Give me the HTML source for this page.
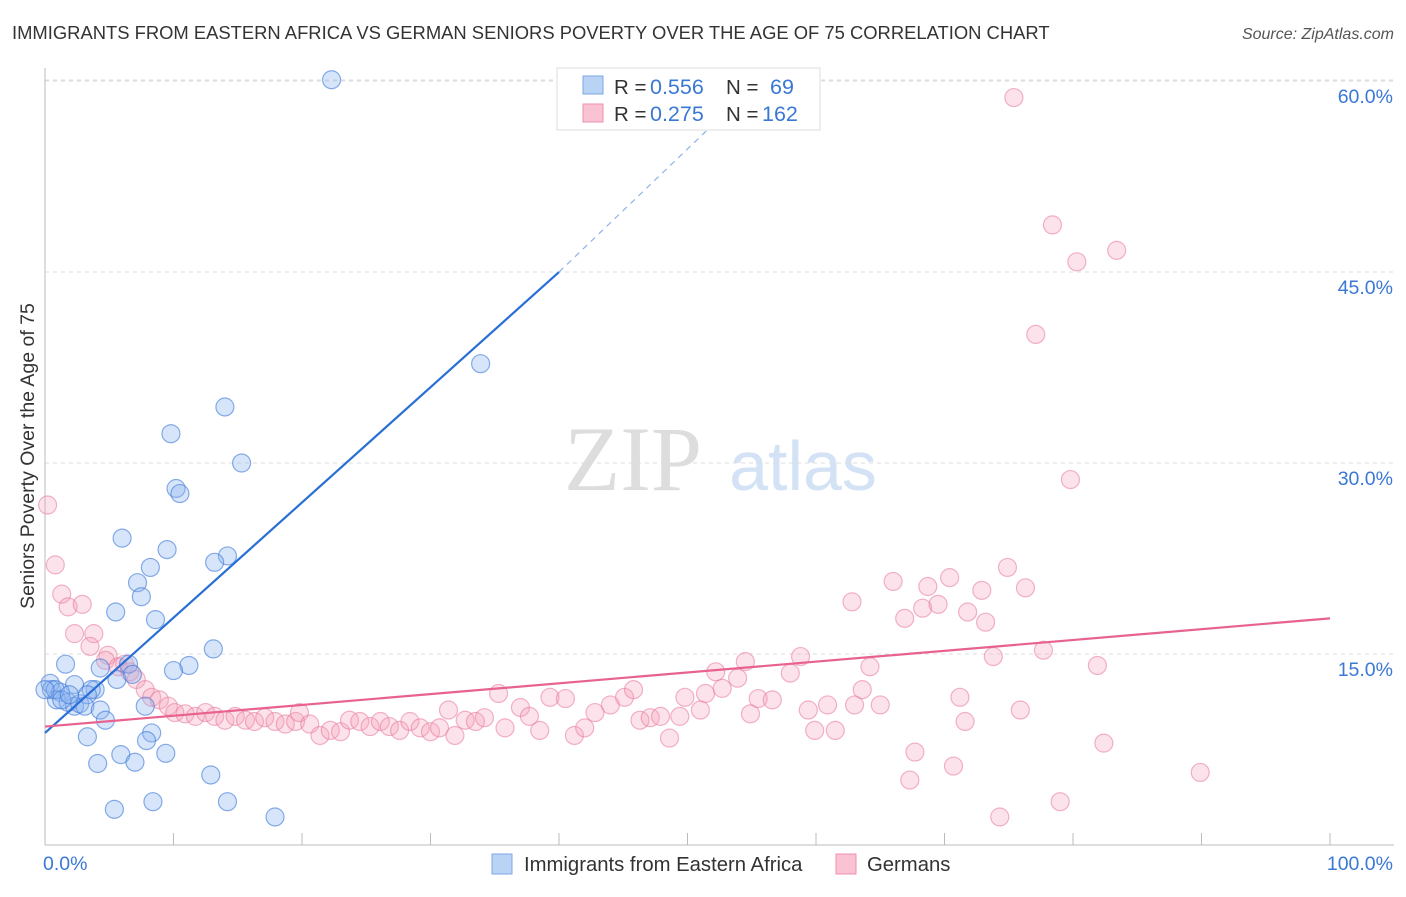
<!DOCTYPE html>
<html><head><meta charset="utf-8"><style>
body{margin:0;background:#fff;font-family:"Liberation Sans",sans-serif}
</style></head><body>
<svg id="chart" width="1406" height="892" xmlns="http://www.w3.org/2000/svg" font-family="Liberation Sans, sans-serif">
<text x="12" y="39" font-size="18.4" fill="#333">IMMIGRANTS FROM EASTERN AFRICA VS GERMAN SENIORS POVERTY OVER THE AGE OF 75 CORRELATION CHART</text>
<text x="1394" y="39" font-size="16" fill="#555" text-anchor="end" font-style="italic">Source: ZipAtlas.com</text>
<text transform="translate(34,456) rotate(-90)" font-size="19.5" fill="#333" text-anchor="middle">Seniors Poverty Over the Age of 75</text>
<g>
<text x="633" y="490" font-size="92" fill="#ddd" font-family="Liberation Serif, serif" text-anchor="middle">ZIP</text>
<text x="803" y="490" font-size="70" fill="#d4e2f5" text-anchor="middle">atlas</text>
</g>
<g id="grid"></g><g id="axes"></g><g id="pts"></g><g id="lines"></g>
<g>
<rect x="557" y="68" width="263" height="62" fill="#fff" stroke="#ddd"/>
<rect x="583" y="76" width="20" height="18" fill="#b9d3f5" stroke="#7aa7e6"/>
<rect x="583" y="104" width="20" height="18" fill="#f9c3d3" stroke="#ee8fae"/>
<text x="614" y="94" font-size="20.5" fill="#333">R =</text>
<text x="650" y="94" font-size="21.5" fill="#3a78d4">0.556</text>
<text x="726" y="94" font-size="20.5" fill="#333">N =</text>
<text x="770" y="94" font-size="21.5" fill="#3a78d4">69</text>
<text x="614" y="121" font-size="20.5" fill="#333">R =</text>
<text x="650" y="121" font-size="21.5" fill="#3a78d4">0.275</text>
<text x="726" y="121" font-size="20.5" fill="#333">N =</text>
<text x="762" y="121" font-size="21.5" fill="#3a78d4">162</text>
</g>
<g>
<rect x="492" y="854" width="20" height="20" fill="#b9d3f5" stroke="#7aa7e6"/>
<text x="524" y="871" font-size="20.3" fill="#333">Immigrants from Eastern Africa</text>
<rect x="836" y="854" width="20" height="20" fill="#f9c3d3" stroke="#ee8fae"/>
<text x="867" y="871" font-size="20.3" fill="#333">Germans</text>
</g>
</svg>
<script>
const yTicks=[15,30,45,60];
const yTickLabels=["15.0%","30.0%","45.0%","60.0%"];
const xEndLabels=["0.0%","100.0%"];
const blueX=[22.3,33.9,14.0,9.8,15.3,10.2,10.5,6.0,9.5,14.2,13.2,8.2,7.2,7.5,5.5,8.6,13.1,1.6,11.2,10.0,4.3,6.5,3.9,6.8,5.6,2.3,3.6,0.4,0.5,1.2,0.9,1.8,2.3,2.7,3.3,3.1,0.8,0,4.3,4.7,7.8,3.3,8.3,7.9,9.4,5.9,7.0,4.1,12.9,5.4,8.4,14.2,17.9,1.3,1.9];
const blueY=[60.1,37.8,34.4,32.3,30.0,28.0,27.6,24.1,23.2,22.7,22.2,21.8,20.6,19.5,18.3,17.7,15.4,14.2,14.1,13.7,13.9,14.2,12.2,13.4,13.0,12.6,12.2,12.7,12.2,12.0,11.4,11.2,10.9,11.1,11.8,10.9,12.2,12.2,10.6,9.8,10.9,8.5,8.8,8.2,7.2,7.1,6.5,6.4,5.5,2.8,3.4,3.4,2.2,11.4,11.8];
const pinkX=[0.2,0.8,1.3,1.8,2.9,2.3,3.8,3.5,4.9,4.7,5.7,6.2,6.6,7.1,7.8,8.3,8.9,9.6,10.1,10.9,11.7,12.5,13.2,14.0,14.8,15.6,16.3,17.1,17.9,18.7,19.5,19.8,20.6,21.4,22.2,23.0,23.7,24.5,25.3,26.1,26.8,27.6,28.4,29.2,30.0,30.7,31.4,31.9,32.7,33.5,34.2,35.3,35.8,37.0,37.7,38.5,39.3,40.5,41.2,42.0,42.8,44.0,45.1,45.8,46.3,47.1,47.9,48.6,49.4,49.8,51.0,51.4,52.2,52.7,53.9,54.5,54.9,55.5,56.6,58.0,58.8,59.4,59.9,60.9,61.5,63.0,63.6,64.2,65.0,66.0,62.8,66.9,67.3,67.7,68.3,68.7,69.5,70.4,70.7,71.2,71.6,71.8,73.2,72.9,73.8,74.3,74.9,75.4,77.7,75.9,76.3,77.1,78.4,79.0,79.8,80.3,81.9,82.4,83.4,89.9];
const pinkY=[26.7,22.0,19.7,18.7,18.9,16.6,16.6,15.6,14.9,14.5,14.0,14.2,13.6,13.0,12.2,11.6,11.4,10.9,10.4,10.3,10.1,10.4,10.1,9.8,10.1,9.8,9.7,10.0,9.7,9.5,9.7,10.4,9.5,8.6,9.0,8.9,9.8,9.7,9.3,9.7,9.3,9.0,9.7,9.2,8.9,9.2,10.6,8.6,9.8,9.7,10.0,11.9,9.2,10.8,10.1,9.0,11.6,11.5,8.6,9.2,10.4,11.0,11.6,12.2,9.8,10.0,10.1,8.4,10.1,11.6,10.6,11.9,13.6,12.3,13.1,14.4,10.3,11.5,11.4,13.5,14.8,10.6,9.0,11.0,9.0,11.0,12.2,14.0,11.0,20.7,19.1,17.8,5.1,7.3,18.6,20.3,18.9,21.0,6.2,11.6,9.7,18.3,17.5,20.0,14.8,2.2,21.8,58.7,15.3,10.6,20.2,40.1,48.7,3.4,28.7,45.8,14.1,8.0,46.7,5.7];
const blueTrend=[[0,8.8],[40,45.0],[55,59.5]];
const pinkTrend=[[0,9.3],[100,17.8]];
const NS="http://www.w3.org/2000/svg";
const X=v=>45+v*12.85, Y=v=>845-v*12.733;
function mk(t,a,p){const e=document.createElementNS(NS,t);for(const k in a)e.setAttribute(k,a[k]);p.appendChild(e);return e;}
const gridG=document.getElementById('grid'),axesG=document.getElementById('axes'),ptsG=document.getElementById('pts'),linesG=document.getElementById('lines');
yTicks.forEach((t,i)=>{
 const l=mk('line',{x1:45,x2:1394,y1:Y(t),y2:Y(t),stroke:'#ddd','stroke-dasharray':'4,4'},gridG);
 
 
 const tx=mk('text',{x:1393,y:Y(t)+22,'font-size':19.5,fill:'#3a78d4','text-anchor':'end'},axesG);
 tx.textContent=yTickLabels[i];
 
 
});
const topLine=mk('line',{x1:45,x2:1394,y1:80,y2:80,stroke:'#ddd','stroke-dasharray':'4,4'},gridG);


const ya=mk('line',{x1:45,x2:45,y1:68,y2:845,stroke:'#bbb'},axesG);


const xa=mk('line',{x1:45,x2:1394,y1:845,y2:845,stroke:'#bbb'},axesG);


for(let i=0;i<=100;i+=10){
 const t=mk('line',{x1:X(i),x2:X(i),y1:833,y2:845,stroke:'#bbb'},axesG);
 
 
}
[[0,'start',xEndLabels[0]],[100,'end',xEndLabels[1]]].forEach(([v,a,s])=>{
 const t=mk('text',{x:v==0?X(v)-2:1393,y:870,'font-size':19.5,fill:'#3a78d4','text-anchor':a},axesG);
 t.textContent=s;
 
 
});
pinkX.forEach((x,i)=>{
 const c=mk('circle',{cx:X(x),cy:Y(pinkY[i]),r:9,fill:'rgba(246,160,186,0.3)',stroke:'rgba(232,120,155,0.55)','stroke-width':1.2},ptsG);
 
 
});
blueX.forEach((x,i)=>{
 const c=mk('circle',{cx:X(x),cy:Y(blueY[i]),r:9,fill:'rgba(140,180,240,0.35)',stroke:'rgba(60,120,215,0.6)','stroke-width':1.2},ptsG);
 
 
});
const b1=mk('line',{x1:X(blueTrend[0][0]),y1:Y(blueTrend[0][1]),x2:X(blueTrend[1][0]),y2:Y(blueTrend[1][1]),stroke:'#2a6fd6','stroke-width':2.2},linesG);


const b2=mk('line',{x1:X(blueTrend[1][0]),y1:Y(blueTrend[1][1]),x2:X(blueTrend[2][0]),y2:Y(blueTrend[2][1]),stroke:'#8fb3e8','stroke-width':1.2,'stroke-dasharray':'6,5'},linesG);


const p1=mk('line',{x1:X(pinkTrend[0][0]),y1:Y(pinkTrend[0][1]),x2:X(pinkTrend[1][0]),y2:Y(pinkTrend[1][1]),stroke:'#e8628e','stroke-width':2.2},linesG);


</script>
</body></html>
